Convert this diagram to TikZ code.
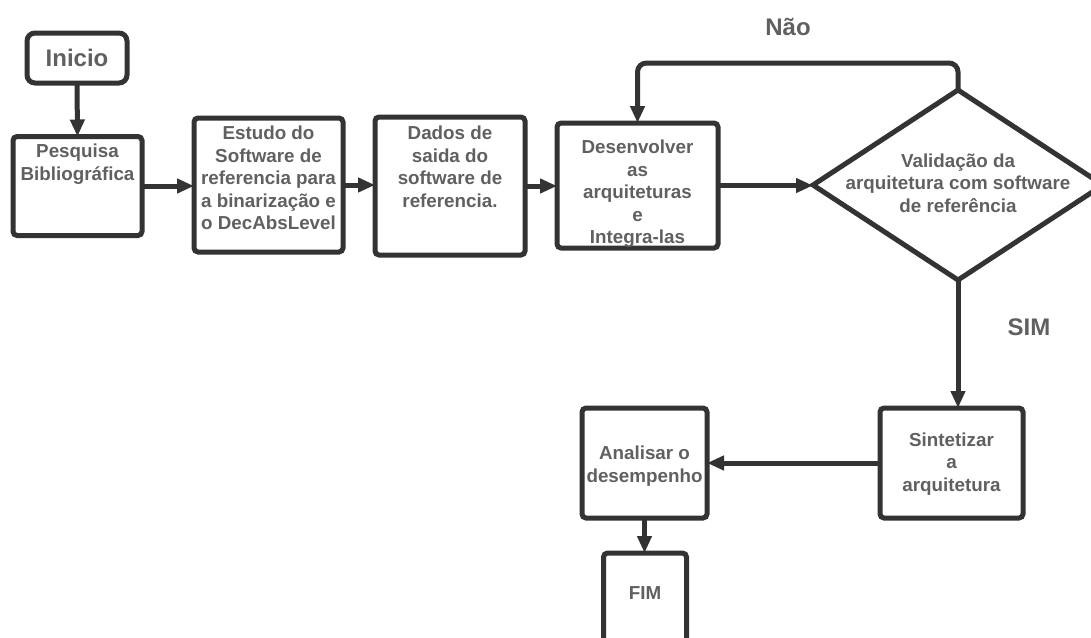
\documentclass[tikz,border=0pt]{standalone}
\usepackage{fontspec}
\setmainfont{Liberation Sans}
\usetikzlibrary{arrows.meta,shapes.geometric}
\definecolor{edge}{HTML}{333333}
\definecolor{txt}{HTML}{606060}
\tikzset{
  boxnode/.style={draw=edge, line width=5pt, rounded corners=4pt, inner sep=0pt, outer sep=0pt},
  lbl/.style={text=txt, font=\bfseries\fontsize{18.8}{22.5}\selectfont, align=center, inner sep=0pt},
  biglbl/.style={text=txt, font=\bfseries\fontsize{24}{28}\selectfont, inner sep=0pt},
  conn/.style={draw=edge, line width=5pt, -{Triangle[length=17pt,width=14pt]}},
}
\begin{document}
\begin{tikzpicture}[x=1pt,y=-1pt]
\useasboundingbox (0,0) rectangle (1091,637);
% boxes
\node[boxnode, minimum width=100pt, minimum height=50pt, rounded corners=8pt] (ini) at (77,58) {};
\node[boxnode, minimum width=129pt, minimum height=99pt] (pes) at (77.5,186) {};
\node[boxnode, minimum width=149pt, minimum height=134pt] (est) at (268.5,185) {};
\node[boxnode, minimum width=150pt, minimum height=138pt] (dad) at (450,186) {};
\node[boxnode, minimum width=161pt, minimum height=125pt] (des) at (637.5,185.5) {};
\node[draw=edge, line width=5pt, diamond, inner sep=0pt, outer sep=0pt, minimum width=290pt, minimum height=190pt] (dia) at (958,185) {};
\node[boxnode, minimum width=143pt, minimum height=110pt] (sin) at (951.5,463) {};
\node[boxnode, minimum width=125pt, minimum height=110pt] (ana) at (644.5,463) {};
\node[boxnode, minimum width=83pt, minimum height=110pt] (fim) at (645,608) {};
% texts
\node[biglbl] (tini) at (ini.center) {Inicio};
\node[lbl, anchor=north] (tpes) at (77.5,144) {Pesquisa\\Bibliográfica};
\node[lbl, anchor=north] (test) at (268.5,126) {Estudo do\\Software de\\referencia para\\a binarização e\\o DecAbsLevel};
\node[lbl, anchor=north] (tdad) at (450,126) {Dados de\\saida do\\software de\\referencia.};
\node[lbl, anchor=north] (tdes) at (637.5,140) {Desenvolver\\as\\arquiteturas\\e\\Integra-las};
\node[lbl] (tdia) at (958,183) {Validação da\\arquitetura com software\\de referência};
\node[lbl] (tsin) at (951.5,464) {Sintetizar\\a\\arquitetura};
\node[lbl] (tana) at (644.5,466) {Analisar o\\desempenho};
\node[lbl] (tfim) at (645,593) {FIM};
\node[biglbl] (nao) at (788,27) {Não};
\node[biglbl] (simlbl) at (1029,327) {SIM};
% connectors
\coordinate (looptop) at (0,63);
\draw[conn] (ini.south) -- (pes.north);
\draw[conn] (pes.east) -- (pes.east -| est.west);
\draw[conn] (est.east) -- (est.east -| dad.west);
\draw[conn] (dad.east) -- (dad.east -| des.west);
\draw[conn] (des.east) -- (des.east -| dia.west);
\draw[conn, rounded corners=9pt] (dia.north) -- (dia.north |- looptop) -| (des.north);
\draw[conn] (dia.south) -- (dia.south |- sin.north);
\draw[conn] (sin.west) -- (sin.west -| ana.east);
\draw[conn] (ana.south) -- (ana.south |- fim.north);
\end{tikzpicture}
\end{document}
